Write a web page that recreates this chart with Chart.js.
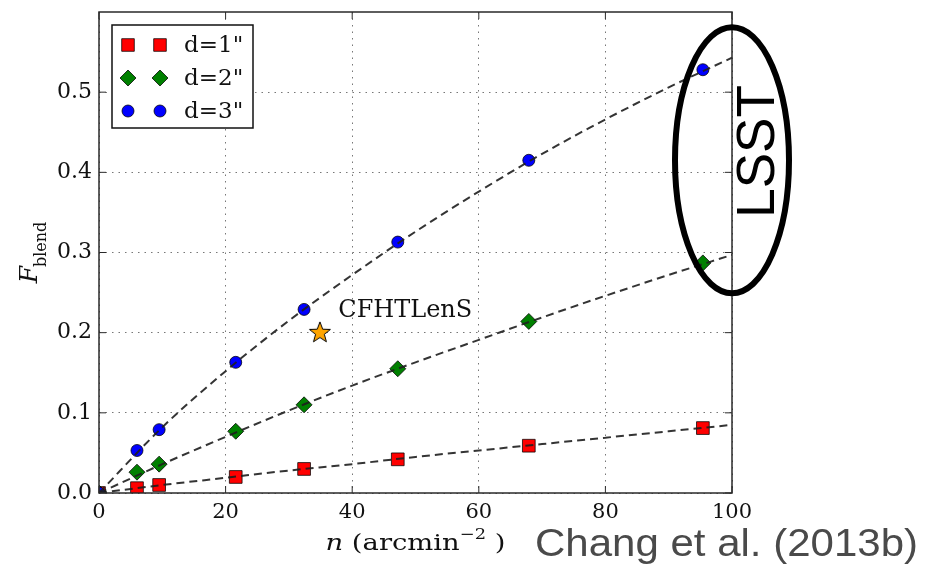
<!DOCTYPE html>
<html>
<head>
<meta charset="utf-8">
<title>Blending fraction</title>
<script src="https://cdn.jsdelivr.net/npm/chart.js@4.4.0/dist/chart.umd.min.js"></script>
<style>
  html, body { margin: 0; padding: 0; background: #fff; }
  canvas { display: block; }
</style>
</head>
<body>
<canvas id="blend" width="927" height="569"></canvas>
<script>
// measured blending fractions vs. source density, per separation threshold
const densities = [0, 6, 9.5, 21.6, 32.4, 47.2, 67.9, 95.4];
const blendD1 = [0, 0.006, 0.010, 0.020, 0.030, 0.042, 0.059, 0.081];
const blendD2 = [0, 0.026, 0.036, 0.077, 0.110, 0.155, 0.214, 0.287];
const blendD3 = [0, 0.053, 0.079, 0.163, 0.229, 0.313, 0.415, 0.528];

// dashed fit curves
const fitDensities = [0, 10, 20, 30, 40, 50, 60, 70, 80, 90, 100];
const fitD1 = [0, 0.010, 0.019, 0.028, 0.036, 0.045, 0.053, 0.061, 0.069, 0.077, 0.085];
const fitD2 = [0, 0.036, 0.070, 0.103, 0.134, 0.163, 0.191, 0.219, 0.246, 0.272, 0.297];
const fitD3 = [0, 0.082, 0.152, 0.215, 0.272, 0.326, 0.376, 0.423, 0.466, 0.506, 0.543];

const cfhtN = [34.9];
const cfhtF = [0.201];

const seriesLabels = ['d=1"', 'd=2"', 'd=3"'];
const xTicks = [0, 20, 40, 60, 80, 100];
const yTicks = [0.0, 0.1, 0.2, 0.3, 0.4, 0.5];

const SERIF = '"DejaVu Serif", serif';
const SANS = '"Liberation Sans", Arial, sans-serif';

const pts = (xs, ys) => xs.map((x, i) => ({ x: x, y: ys[i] }));

function starImage(r, inner) {
  const c = document.createElement('canvas');
  const s = Math.ceil(r * 2 + 4);
  c.width = c.height = s;
  const g = c.getContext('2d');
  g.beginPath();
  for (let i = 0; i < 10; i++) {
    const rad = i % 2 ? inner : r;
    const a = -Math.PI / 2 + i * Math.PI / 5;
    g.lineTo(s / 2 + rad * Math.cos(a), s / 2 + 1 + rad * Math.sin(a));
  }
  g.closePath();
  g.fillStyle = '#ffa500';
  g.fill();
  g.lineWidth = 1;
  g.strokeStyle = '#000';
  g.stroke();
  return c;
}

function fitLine(xs, ys) {
  return {
    type: 'line',
    data: pts(xs, ys),
    showLine: true,
    borderColor: 'rgba(30,30,30,0.9)',
    borderWidth: 2,
    borderDash: [8, 5],
    pointRadius: 0,
    cubicInterpolationMode: 'monotone',
    order: 0
  };
}

function markers(ys, style, color, radius, order) {
  return {
    data: pts(densities, ys),
    pointStyle: style,
    pointRadius: radius,
    pointHoverRadius: radius,
    backgroundColor: color,
    borderColor: 'rgba(0,0,0,0.75)',
    borderWidth: 1,
    order: order
  };
}

function marker(ctx, style, x, y) {
  ctx.beginPath();
  if (style === 'rect') {
    ctx.rect(x - 6.3, y - 6.3, 12.6, 12.6);
    ctx.fillStyle = '#ff0000';
  } else if (style === 'rectRot') {
    ctx.moveTo(x, y - 8); ctx.lineTo(x + 8, y); ctx.lineTo(x, y + 8); ctx.lineTo(x - 8, y);
    ctx.closePath();
    ctx.fillStyle = '#008000';
  } else {
    ctx.arc(x, y, 6, 0, Math.PI * 2);
    ctx.fillStyle = '#0000ff';
  }
  ctx.fill();
  ctx.lineWidth = 1;
  ctx.strokeStyle = 'rgba(0,0,0,0.75)';
  ctx.stroke();
}

// draw a string squeezed/stretched to a given width
function fitText(ctx, text, x, y, width) {
  const w = ctx.measureText(text).width;
  ctx.save();
  ctx.translate(x, y);
  ctx.scale(width / w, 1);
  ctx.fillText(text, 0, 0);
  ctx.restore();
}

const decorations = {
  id: 'decorations',
  afterDraw(chart) {
    const { ctx, chartArea: a, scales: { x, y } } = chart;
    ctx.save();

    // axes frame + inward ticks
    ctx.strokeStyle = '#2a2a2a';
    ctx.lineWidth = 1.5;
    ctx.strokeRect(a.left, a.top, a.right - a.left, a.bottom - a.top);
    ctx.lineWidth = 1;
    ctx.beginPath();
    xTicks.forEach(v => {
      const px = x.getPixelForValue(v);
      ctx.moveTo(px, a.bottom); ctx.lineTo(px, a.bottom - 7);
      ctx.moveTo(px, a.top); ctx.lineTo(px, a.top + 7);
    });
    yTicks.forEach(v => {
      const py = y.getPixelForValue(v);
      ctx.moveTo(a.left, py); ctx.lineTo(a.left + 7, py);
      ctx.moveTo(a.right, py); ctx.lineTo(a.right - 7, py);
    });
    ctx.stroke();

    // legend
    const lx = a.left + 13, ly = a.top + 13;
    ctx.fillStyle = '#fff';
    ctx.fillRect(lx, ly, 141, 103);
    ctx.lineWidth = 1.5;
    ctx.strokeStyle = '#111';
    ctx.strokeRect(lx, ly, 141, 103);
    const styles = ['rect', 'rectRot', 'circle'];
    ctx.font = '23px ' + SERIF;
    ctx.textBaseline = 'middle';
    ctx.textAlign = 'left';
    seriesLabels.forEach((label, i) => {
      const ry = ly + 20 + i * 33;
      marker(ctx, styles[i], lx + 16, ry);
      marker(ctx, styles[i], lx + 48, ry);
      ctx.fillStyle = '#111';
      ctx.fillText(label, lx + 72, ry + 1);
    });

    // CFHTLenS annotation
    ctx.font = '24px ' + SERIF;
    ctx.textBaseline = 'alphabetic';
    ctx.fillStyle = '#111';
    ctx.fillText('CFHTLenS', x.getPixelForValue(37.8), y.getPixelForValue(0.219));

    // x axis title: n (arcmin^-2), drawn in pieces then stretched
    const parts = [
      { t: 'n', f: 'italic 23px ' + SERIF, dy: 0 },
      { t: ' (arcmin', f: '23px ' + SERIF, dy: 0 },
      { t: '\u22122', f: '15px ' + SERIF, dy: -11 },
      { t: ' )', f: '23px ' + SERIF, dy: 0 }
    ];
    let total = 0;
    parts.forEach(p => { ctx.font = p.f; p.w = ctx.measureText(p.t).width; total += p.w; });
    const k = 180 / total;
    ctx.save();
    ctx.translate((a.left + a.right) / 2 - 90, 550);
    ctx.scale(k, 1);
    let cx = 0;
    parts.forEach(p => {
      ctx.font = p.f;
      ctx.fillText(p.t, cx, p.dy);
      cx += p.w;
    });
    ctx.restore();

    // y axis title: F_blend
    ctx.save();
    ctx.translate(37, 252);
    ctx.rotate(-Math.PI / 2);
    ctx.font = 'italic 25px ' + SERIF;
    const fw = ctx.measureText('F').width;
    ctx.font = '16px ' + SERIF;
    const bw = ctx.measureText('blend').width;
    const sx = -(fw + bw) / 2;
    ctx.font = 'italic 25px ' + SERIF;
    ctx.fillText('F', sx, 0);
    ctx.font = '16px ' + SERIF;
    ctx.fillText('blend', sx + fw - 1, 9);
    ctx.restore();

    // LSST highlight
    const ex = x.getPixelForValue(100), ey = y.getPixelForValue(0.415);
    ctx.beginPath();
    ctx.ellipse(ex, ey, 57, 133, 0, 0, Math.PI * 2);
    ctx.lineWidth = 6;
    ctx.strokeStyle = '#000';
    ctx.stroke();
    ctx.save();
    ctx.translate(ex + 27, y.getPixelForValue(0.426));
    ctx.rotate(-Math.PI / 2);
    ctx.font = '53px ' + SANS;
    ctx.textAlign = 'center';
    ctx.textBaseline = 'middle';
    ctx.fillStyle = '#000';
    ctx.fillText('LSST', 0, 0);
    ctx.restore();

    // citation
    ctx.font = '38px ' + SANS;
    ctx.fillStyle = '#4a4a4a';
    ctx.textAlign = 'left';
    ctx.textBaseline = 'alphabetic';
    fitText(ctx, 'Chang et al. (2013b)', 535, 556, 383);

    ctx.restore();
  }
};

Chart.defaults.font.family = SERIF;
Chart.defaults.color = '#111';

new Chart(document.getElementById('blend'), {
  type: 'scatter',
  data: {
    datasets: [
      fitLine(fitDensities, fitD1),
      fitLine(fitDensities, fitD2),
      fitLine(fitDensities, fitD3),
      markers(blendD1, 'rect', '#ff0000', 9, 3),
      markers(blendD2, 'rectRot', '#008000', 8, 2),
      markers(blendD3, 'circle', '#0000ff', 6, 1),
      {
        data: pts(cfhtN, cfhtF),
        pointStyle: starImage(11, 4.6),
        pointRadius: 11,
        order: 1
      }
    ]
  },
  options: {
    responsive: false,
    animation: false,
    devicePixelRatio: 1,
    layout: { padding: { top: 8, right: 195, left: 0, bottom: 0 } },
    plugins: { legend: { display: false }, tooltip: { enabled: false } },
    scales: {
      x: {
        type: 'linear',
        min: 0, max: 100,
        afterFit: s => { s.height = 76; s.paddingLeft = 0; s.paddingRight = 0; },
        afterBuildTicks: s => { s.ticks = xTicks.map(v => ({ value: v })); },
        ticks: { font: { size: 21 }, padding: 7, maxRotation: 0, callback: v => String(v) },
        grid: { color: '#777', lineWidth: 1, drawTicks: false },
        border: { display: false, dash: [1.5, 5] }
      },
      y: {
        min: 0, max: 0.6,
        afterFit: s => { s.width = 99; s.paddingTop = 0; s.paddingBottom = 0; },
        afterBuildTicks: s => { s.ticks = yTicks.map(v => ({ value: v })); },
        ticks: { font: { size: 22 }, padding: 7, callback: v => v.toFixed(1) },
        grid: { color: '#777', lineWidth: 1, drawTicks: false },
        border: { display: false, dash: [1.5, 5] }
      }
    }
  },
  plugins: [decorations]
});
</script>
</body>
</html>
